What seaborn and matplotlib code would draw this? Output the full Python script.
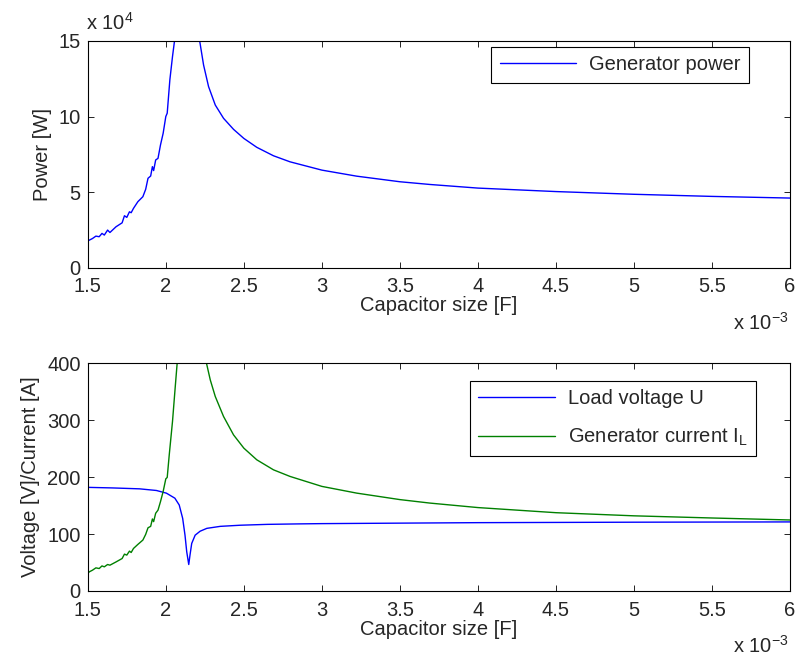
import matplotlib
matplotlib.use('Agg')
import matplotlib.pyplot as plt
import seaborn as sns
from matplotlib.ticker import FuncFormatter

# capacitor size in units of 1e-3 F, power in units of 1e4 W
cap_power = [1.500, 1.509, 1.530, 1.552, 1.573, 1.591, 1.606, 1.627, 1.642, 1.681,
             1.720, 1.735, 1.750, 1.767, 1.778, 1.793, 1.821, 1.853, 1.871, 1.886,
             1.903, 1.914, 1.922, 1.935, 1.950, 1.966, 1.983, 2.000, 2.009, 2.026,
             2.043, 2.056, 2.140, 2.216, 2.242, 2.274, 2.317, 2.370, 2.434, 2.500,
             2.583, 2.690, 2.796, 3.000, 3.223, 3.500, 3.692, 4.000, 4.500, 5.000,
             5.500, 6.000]
power = [1.75, 1.81, 1.92, 2.08, 2.04, 2.26, 2.15, 2.48, 2.32, 2.70,
         2.96, 3.43, 3.32, 3.69, 3.63, 3.92, 4.36, 4.69, 5.18, 5.91,
         6.06, 6.68, 6.42, 7.12, 7.23, 8.12, 8.89, 10.00, 10.22, 12.43,
         13.98, 15.02, 40.0, 15.07, 13.41, 11.98, 10.76, 9.88, 9.15, 8.55,
         7.96, 7.40, 7.00, 6.45, 6.05, 5.68, 5.50, 5.26, 5.03, 4.85,
         4.71, 4.60]

# load voltage U [V]
cap_voltage = [1.500, 1.659, 1.832, 1.940, 2.004, 2.058, 2.086, 2.108, 2.123, 2.134,
               2.147, 2.155, 2.166, 2.188, 2.220, 2.263, 2.349, 2.478, 2.651, 2.845,
               3.000, 4.000, 5.000, 6.000]
voltage = [182.0, 181.0, 179.4, 176.5, 171.8, 163.0, 151.0, 127.6, 98.0, 69.0,
           46.5, 63.0, 83.5, 98.0, 105.0, 110.0, 113.5, 115.5, 117.0, 117.8,
           118.3, 120.0, 120.8, 121.3]

# generator current I_L [A]
cap_current = [1.500, 1.509, 1.530, 1.552, 1.573, 1.591, 1.606, 1.627, 1.642, 1.681,
               1.720, 1.735, 1.750, 1.767, 1.778, 1.793, 1.821, 1.853, 1.871, 1.886,
               1.903, 1.914, 1.922, 1.935, 1.950, 1.966, 1.983, 2.000, 2.009, 2.022,
               2.043, 2.060, 2.073, 2.140, 2.259, 2.285, 2.317, 2.370, 2.434, 2.500,
               2.583, 2.690, 2.796, 3.000, 3.223, 3.500, 3.692, 4.000, 4.500, 5.000,
               5.500, 6.000]
current = [30.6, 33.5, 36.5, 40.6, 39.4, 44.0, 42.4, 46.5, 45.3, 51.0,
           57.0, 64.7, 63.0, 70.0, 67.6, 74.7, 81.8, 89.4, 99.4, 111.0,
           113.5, 126.5, 121.8, 136.5, 142.0, 157.0, 174.7, 197.0, 199.4, 239.0,
           298.0, 357.0, 401.0, 900.0, 402.0, 370.7, 341.6, 306.5, 274.2, 250.9,
           230.4, 212.8, 201.2, 183.7, 171.9, 160.5, 154.4, 146.5, 137.5, 132.0,
           128.2, 124.7]

x_ticks = [1.5, 2, 2.5, 3, 3.5, 4, 4.5, 5, 5.5, 6]

sns.set_style('ticks', {'xtick.direction': 'in', 'ytick.direction': 'in'})
plt.rcParams['font.family'] = ['Liberation Sans', 'DejaVu Sans']
plt.rcParams['mathtext.fontset'] = 'custom'
plt.rcParams['mathtext.rm'] = 'Liberation Sans'
plt.rcParams['mathtext.default'] = 'regular'
fs = 14.5

fig = plt.figure(figsize=(7.98, 6.57), dpi=100)
ax1 = fig.add_axes([0.110, 0.5928, 0.880, 0.3448])
ax2 = fig.add_axes([0.110, 0.1005, 0.880, 0.3466])

sns.lineplot(x=cap_power, y=power, ax=ax1, color='#0000ff', lw=1.0,
             label='Generator power')
sns.lineplot(x=cap_voltage, y=voltage, ax=ax2, color='#0000ff', lw=1.0,
             label='Load voltage U')
sns.lineplot(x=cap_current, y=current, ax=ax2, color='#008000', lw=1.0,
             label=r'Generator current I$_{\mathrm{L}}$')

fmt = FuncFormatter(lambda v, pos: f'{v:g}')
for ax, ylim, yticks, ylabel in [(ax1, (0, 15), [0, 5, 10, 15], 'Power [W]'),
                                 (ax2, (0, 400), [0, 100, 200, 300, 400],
                                  'Voltage [V]/Current [A]')]:
    ax.set_xlim(1.5, 6)
    ax.set_ylim(*ylim)
    ax.set_xticks(x_ticks)
    ax.set_yticks(yticks)
    ax.xaxis.set_major_formatter(fmt)
    ax.tick_params(which='both', direction='in', top=True, right=True,
                   length=4.5, width=0.6, labelsize=fs, color='black')
    ax.tick_params(axis='x', pad=7)
    ax.tick_params(axis='y', pad=5)
    for sp in ax.spines.values():
        sp.set_visible(True)
        sp.set_linewidth(0.8)
        sp.set_color('black')
    ax.set_xlabel('Capacitor size [F]', fontsize=fs, labelpad=0)
    ax.set_ylabel(ylabel, fontsize=fs, labelpad=5)

leg1 = ax1.legend(loc='upper right', bbox_to_anchor=(0.942, 0.975), fontsize=fs,
                  fancybox=False, edgecolor='black', framealpha=1,
                  handlelength=3.8, handletextpad=0.65, borderpad=0.42,
                  borderaxespad=0)
leg2 = ax2.legend(loc='upper right', bbox_to_anchor=(0.951, 0.922), fontsize=fs,
                  fancybox=False, edgecolor='black', framealpha=1,
                  handlelength=3.8, handletextpad=0.65, borderpad=0.42,
                  labelspacing=0.9, borderaxespad=0)
for leg in (leg1, leg2):
    leg.get_frame().set_linewidth(0.8)

# MATLAB-style exponent labels
fig.text(86 / 798, 1 - 30 / 657, r'x 10$^{4}$', fontsize=fs, va='baseline', ha='left')
fig.text(733 / 798, 1 - 330 / 657, r'x 10$^{-3}$', fontsize=fs, va='baseline', ha='left')
fig.text(733 / 798, 1 - 653 / 657, r'x 10$^{-3}$', fontsize=fs, va='baseline', ha='left')

fig.savefig('out.png', dpi=100, facecolor='white')
